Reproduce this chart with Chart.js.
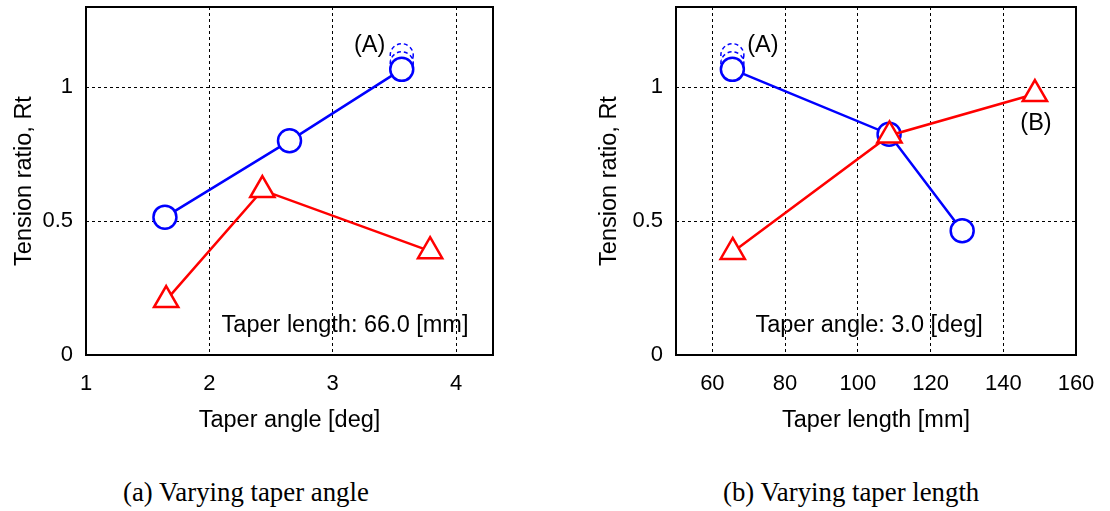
<!DOCTYPE html>
<html>
<head>
<meta charset="utf-8">
<script src="https://cdn.jsdelivr.net/npm/chart.js@4/dist/chart.umd.min.js"></script>
<style>
  body { margin: 0; background: #fff; width: 1110px; height: 511px; position: relative; overflow: hidden; }
  canvas { position: absolute; top: 0; }
  #chartA { left: 0; }
  #chartB { left: 560px; }
  .cap { position: absolute; top: 479px; font-family: "Liberation Serif", "Times New Roman", serif; font-size: 26.8px; line-height: 1; white-space: nowrap; color: #000; }
</style>
</head>
<body>
<canvas id="chartA" width="540" height="440"></canvas>
<canvas id="chartB" width="550" height="440"></canvas>
<div class="cap" style="left:123px">(a) Varying taper angle</div>
<div class="cap" style="left:723px">(b) Varying taper length</div>
<script>
'use strict';

// (a) taper length fixed at 66.0 mm
const angleCircleX = [1.64, 2.65, 3.56];
const angleCircleY = [0.515, 0.80, 1.067];
const angleTriX = [1.65, 2.43, 3.79];
const angleTriY = [0.205, 0.616, 0.388];
const angleGhostX = [3.56, 3.56];
const angleGhostY = [1.12, 1.09];
const angleTicks = [1, 2, 3, 4];

// (b) taper angle fixed at 3.0 deg
const lengthCircleX = [65.5, 108.6, 128.7];
const lengthCircleY = [1.067, 0.825, 0.464];
const lengthTriX = [65.6, 108.7, 148.7];
const lengthTriY = [0.385, 0.82, 0.975];
const lengthGhostX = [65.5, 65.5];
const lengthGhostY = [1.12, 1.09];
const lengthTicks = [60, 80, 100, 120, 140, 160];

const ratioTicks = [0, 0.5, 1];

const notesA = [
  { text: '(A)', x: 3.30, y: 1.157 },
  { text: 'Taper length: 66.0 [mm]', x: 3.10, y: 0.112 }
];
const notesB = [
  { text: '(A)', x: 73.9, y: 1.157 },
  { text: '(B)', x: 149, y: 0.866 },
  { text: 'Taper angle: 3.0 [deg]', x: 103.1, y: 0.112 }
];

const SANS = '"Liberation Sans", Arial, sans-serif';

function pts(xs, ys) {
  return xs.map((v, i) => ({ x: v, y: ys[i] }));
}

// dashed circles (A), the frame and the text notes
const extras = {
  id: 'extras',
  beforeDatasetsDraw(chart, args, opts) {
    const { ctx, scales: { x, y } } = chart;
    ctx.save();
    ctx.strokeStyle = '#0000ff';
    ctx.fillStyle = '#fff';
    ctx.lineWidth = 1.5;
    ctx.setLineDash([4, 3]);
    opts.ghostX.forEach((v, i) => {
      ctx.beginPath();
      ctx.arc(x.getPixelForValue(v), y.getPixelForValue(opts.ghostY[i]), 11.5, 0, Math.PI * 2);
      ctx.fill();
      ctx.stroke();
    });
    ctx.restore();
  },
  afterDraw(chart, args, opts) {
    const { ctx, chartArea: a, scales: { x, y } } = chart;
    ctx.save();
    ctx.strokeStyle = '#000';
    ctx.lineWidth = 2;
    ctx.strokeRect(a.left, a.top, a.right - a.left, a.bottom - a.top);
    ctx.fillStyle = '#000';
    ctx.font = '23.5px ' + SANS;
    ctx.textAlign = 'center';
    ctx.textBaseline = 'middle';
    opts.notes.forEach(n => {
      ctx.fillText(n.text, x.getPixelForValue(n.x), y.getPixelForValue(n.y));
    });
    ctx.restore();
  }
};

function makeChart(id, p) {
  return new Chart(document.getElementById(id), {
    type: 'line',
    data: {
      datasets: [{
        data: pts(p.triX, p.triY),
        borderColor: '#ff0000',
        borderWidth: 2.5,
        pointStyle: 'triangle',
        pointRadius: 14,
        pointBorderWidth: 2.5,
        pointBorderColor: '#ff0000',
        pointBackgroundColor: '#fff',
        order: 0
      }, {
        data: pts(p.circX, p.circY),
        borderColor: '#0000ff',
        borderWidth: 2.5,
        pointStyle: 'circle',
        pointRadius: 11.5,
        pointBorderWidth: 2.5,
        pointBorderColor: '#0000ff',
        pointBackgroundColor: '#fff',
        order: 1
      }]
    },
    options: {
      responsive: false,
      animation: false,
      devicePixelRatio: 1,
      layout: { autoPadding: false, padding: { left: 0, top: 7, right: p.padRight, bottom: 0 } },
      plugins: {
        legend: { display: false },
        tooltip: { enabled: false },
        extras: { ghostX: p.ghostX, ghostY: p.ghostY, notes: p.notes }
      },
      scales: {
        x: {
          type: 'linear',
          min: p.xMin,
          max: p.xMax,
          afterBuildTicks: s => { s.ticks = p.xTicks.map(v => ({ value: v })); },
          afterFit: s => { s.height = 85; s.paddingLeft = 0; s.paddingRight = 0; },
          grid: { color: '#000', lineWidth: 1, drawTicks: false },
          border: { display: false, dash: [3, 3] },
          ticks: { color: '#000', font: { family: SANS, size: 22 }, padding: 16, maxRotation: 0, autoSkip: false, callback: v => String(v) },
          title: { display: true, text: p.xTitle, color: '#000', font: { family: SANS, size: 23.5 }, padding: { top: 0, bottom: 5 } }
        },
        y: {
          type: 'linear',
          min: 0,
          max: 1.3,
          afterBuildTicks: s => { s.ticks = ratioTicks.map(v => ({ value: v })); },
          afterFit: s => { s.width = p.axisW; s.paddingTop = 0; s.paddingBottom = 0; },
          grid: { color: '#000', lineWidth: 1, drawTicks: false },
          border: { display: false, dash: [3, 3] },
          ticks: { color: '#000', font: { family: SANS, size: 22 }, padding: 13, callback: v => String(v) },
          title: { display: true, text: 'Tension ratio, Rt', color: '#000', font: { family: SANS, size: 23.5 }, padding: { top: p.yTitlePad, bottom: 0 } }
        }
      }
    },
    plugins: [extras]
  });
}

makeChart('chartA', {
  circX: angleCircleX, circY: angleCircleY,
  triX: angleTriX, triY: angleTriY,
  ghostX: angleGhostX, ghostY: angleGhostY,
  notes: notesA,
  xMin: 1, xMax: 4.3, xTicks: angleTicks,
  xTitle: 'Taper angle [deg]',
  axisW: 86, padRight: 47, yTitlePad: 10
});

makeChart('chartB', {
  circX: lengthCircleX, circY: lengthCircleY,
  triX: lengthTriX, triY: lengthTriY,
  ghostX: lengthGhostX, ghostY: lengthGhostY,
  notes: notesB,
  xMin: 50, xMax: 160, xTicks: lengthTicks,
  xTitle: 'Taper length [mm]',
  axisW: 116, padRight: 34, yTitlePad: 35
});
</script>
</body>
</html>
